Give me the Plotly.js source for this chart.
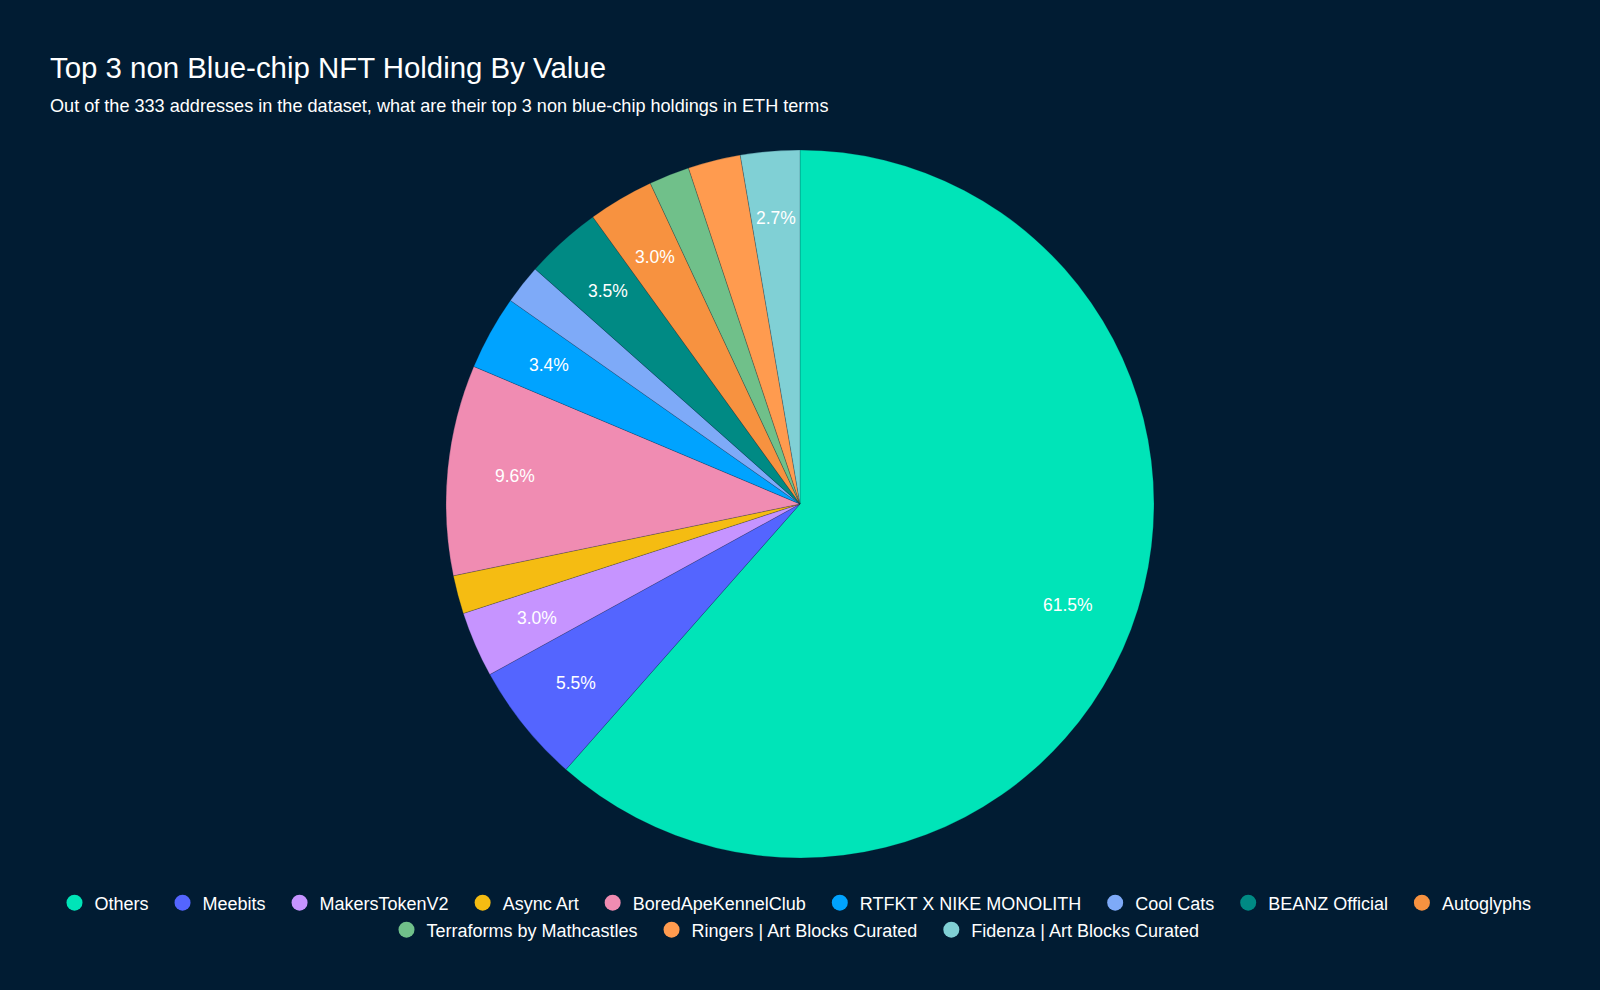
<!DOCTYPE html>
<html>
<head>
<meta charset="utf-8">
<script src="https://cdn.plot.ly/plotly-3.0.1.min.js"></script>
<style>html,body{margin:0;padding:0;background:#011c33;}#chart{width:1600px;height:990px;}</style>
</head>
<body>
<div id="chart"></div>
<script>
const labels = ["Others","Meebits","MakersTokenV2","Async Art","BoredApeKennelClub","RTFKT X NIKE MONOLITH","Cool Cats","BEANZ Official","Autoglyphs","Terraforms by Mathcastles","Ringers | Art Blocks Curated","Fidenza | Art Blocks Curated"];
const values = [61.5, 5.5, 3.0, 1.75, 9.6, 3.4, 1.8, 3.5, 3.0, 1.85, 2.4, 2.7];
const colors = ["#00e4b8","#5465ff","#c694ff","#f5bc12","#f08cb2","#00a3ff","#7eaaf8","#008a84","#f79240","#70c08a","#ff9b4f","#80d0d5"];
const showLabel = [true,true,true,false,true,true,false,true,true,false,false,true];
const legendRow = [1,1,1,1,1,1,1,1,1,2,2,2];

const font = "Liberation Sans, Arial, sans-serif";
const W = 1600, H = 990;
const M = {l: 20, r: 20, t: 150, b: 132};
const gw = W - M.l - M.r, gh = H - M.t - M.b;
const R = Math.min(gw, gh) / 2;
const labelR = 0.81 * R;

const traces = [{
  type: "pie",
  labels: labels,
  values: values,
  sort: false,
  direction: "clockwise",
  rotation: 0,
  marker: {colors: colors, line: {width: 0.6, color: "rgba(1,28,51,0.35)"}},
  textinfo: "none",
  hoverinfo: "label+percent",
  showlegend: false
}];
labels.forEach((l, i) => {
  traces.push({
    type: "scatter", mode: "markers", x: [null], y: [null], name: l + "\u2002",
    legend: legendRow[i] === 1 ? "legend" : "legend2",
    marker: {color: colors[i], size: 16, symbol: "circle"},
    xaxis: "x", yaxis: "y", hoverinfo: "skip"
  });
});

const total = values.reduce((a, b) => a + b, 0);
const annotations = [{
  text: "Out of the 333 addresses in the dataset, what are their top 3 non blue-chip holdings in ETH terms",
  xref: "paper", yref: "paper", x: (48 - M.l) / gw, y: 1 + (M.t - 106) / gh,
  xanchor: "left", yanchor: "middle", showarrow: false,
  font: {size: 18.1, color: "#ffffff", family: font}
}];
let cum = 0;
values.forEach((v, i) => {
  const mid = (cum + v / 2) / total * 2 * Math.PI;
  cum += v;
  if (!showLabel[i]) return;
  annotations.push({
    text: (v / total * 100).toFixed(1) + "%",
    xref: "paper", yref: "paper",
    x: 0.5 + Math.sin(mid) * labelR / gw,
    y: 0.5 + Math.cos(mid) * labelR / gh,
    xanchor: "center", yanchor: "middle", showarrow: false,
    font: {size: 17.5, color: "#ffffff", family: font}
  });
});

const layout = {
  width: W, height: H,
  paper_bgcolor: "#011c33", plot_bgcolor: "#011c33",
  margin: M,
  font: {family: font, color: "#ffffff"},
  xaxis: {visible: false}, yaxis: {visible: false},
  title: {text: "Top 3 non Blue-chip NFT Holding By Value", x: 50/W, xref: "container", xanchor: "left",
          y: 1 - 68/H, yref: "container", yanchor: "middle",
          font: {size: 29.4, color: "#ffffff", family: font}},
  annotations: annotations,
  legend: {orientation: "h", x: 0.5, xanchor: "center", y: -45/gh, yanchor: "middle",
           font: {size: 18, color: "#ffffff", family: font}, bgcolor: "rgba(0,0,0,0)"},
  legend2: {orientation: "h", x: 0.5, xanchor: "center", y: -72/gh, yanchor: "middle",
           font: {size: 18, color: "#ffffff", family: font}, bgcolor: "rgba(0,0,0,0)"}
};
Plotly.newPlot("chart", traces, layout, {displayModeBar: false});
</script>
</body>
</html>
